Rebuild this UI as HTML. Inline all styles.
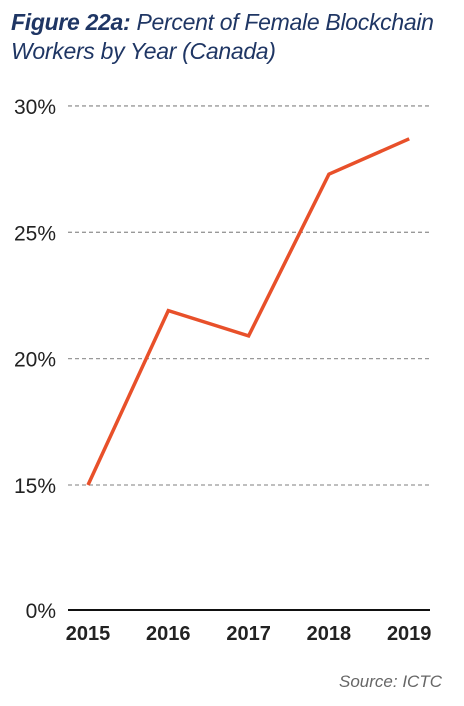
<!DOCTYPE html>
<html><head><meta charset="utf-8"><style>
body{margin:0;width:464px;height:706px;background:#fff;overflow:hidden;font-family:"Liberation Sans",sans-serif}
.t{position:absolute;left:11px;top:8px;color:#1f3664;font-size:23px;font-style:italic;line-height:29px;letter-spacing:-0.3px}
</style></head><body>
<div class="t"><b>Figure 22a:</b> Percent of Female Blockchain<br>Workers by Year (Canada)</div>
<svg id="c" width="464" height="706" style="position:absolute;left:0;top:0"></svg>
<script>
const years=["2015","2016","2017","2018","2019"];
const values=[15.0,21.9,20.9,27.3,28.7];
const yTicks=[15,20,25,30];
const yTickLabels=["15%","20%","25%","30%"];
const ns="http://www.w3.org/2000/svg";
const svg=document.getElementById('c');
function x(i){return 88+i*80.3;}
function y(v){return v<=0?610:485-(v-15)*25.27;}
function mk(t,a,txt){const e=document.createElementNS(ns,t);for(const k in a)e.setAttribute(k,a[k]);if(txt!==undefined)e.textContent=txt;svg.appendChild(e);return e;}
yTicks.forEach((v,i)=>{
const g=mk('line',{x1:68,x2:430,y1:y(v),y2:y(v),stroke:'#999','stroke-width':1.3,'stroke-dasharray':'4,3'});


const l=mk('text',{x:56,y:y(v)+8,'text-anchor':'end','font-size':21,fill:'#222','font-family':'Liberation Sans'},yTickLabels[i]);


});
const z=mk('text',{x:56,y:618,'text-anchor':'end','font-size':21,fill:'#222','font-family':'Liberation Sans'},'0%');


const ax=mk('line',{x1:68,x2:430,y1:610,y2:610,stroke:'#111','stroke-width':2});


years.forEach((yr,i)=>{
const t=mk('text',{x:x(i),y:640,'text-anchor':'middle','font-size':20,'font-weight':'bold',fill:'#222','font-family':'Liberation Sans'},yr);


});
const p=mk('polyline',{points:values.map((v,i)=>x(i)+','+y(v)).join(' '),fill:'none',stroke:'#e8502a','stroke-width':3.5,'stroke-linejoin':'miter'});


const s=mk('text',{x:442,y:687,'text-anchor':'end','font-size':17,'font-style':'italic',fill:'#666','font-family':'Liberation Sans'},'Source: ICTC');


</script>
</body></html>
